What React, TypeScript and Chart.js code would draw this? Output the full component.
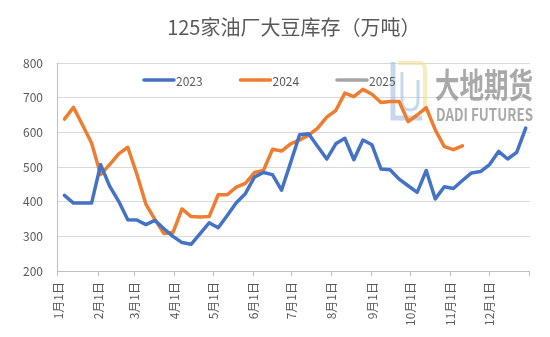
import React, { useEffect, useRef } from 'react';
import { Chart, registerables } from 'chart.js';

Chart.register(...registerables);

const titleText = '125家油厂大豆库存（万吨）';
const seriesNames = ['2023', '2024', '2025'];
const seriesColors = ['#4472C4', '#ED7D31', '#A5A5A5'];

// weekly observation dates (MM-DD)
const weekDates = [
  '01-06', '01-13', '01-20', '01-27', '02-03', '02-10', '02-17', '02-24',
  '03-03', '03-10', '03-17', '03-24', '03-31', '04-07', '04-14', '04-21', '04-28',
  '05-05', '05-12', '05-19', '05-26', '06-02', '06-09', '06-16', '06-23', '06-30',
  '07-07', '07-14', '07-21', '07-28', '08-04', '08-11', '08-18', '08-25',
  '09-01', '09-08', '09-15', '09-22', '09-29', '10-06', '10-13', '10-20', '10-27',
  '11-03', '11-10', '11-17', '11-24', '12-01', '12-08', '12-15', '12-22', '12-29',
];

const monthLabels = ['1月1日', '2月1日', '3月1日', '4月1日', '5月1日', '6月1日', '7月1日', '8月1日', '9月1日', '10月1日', '11月1日', '12月1日'];
const monthDays = [31, 28, 31, 30, 31, 30, 31, 31, 30, 31, 30, 31];

const values2023 = [
  418, 396, 396, 396, 507, 445, 401, 348, 347, 334,
  346, 322, 300, 282, 277, 308, 339, 325, 360, 397,
  423, 471, 484, 478, 433, 512, 593, 596, 559, 523,
  567, 583, 521, 578, 564, 494, 492, 465, 446, 427,
  490, 408, 443, 438, 461, 483, 487, 507, 545, 523,
  542, 612,
];

const values2024 = [
  638, 672, 621, 569, 478, 507, 538, 557, 480, 393,
  349, 308, 311, 379, 357, 356, 357, 420, 420, 442,
  453, 484, 490, 551, 546, 567, 578, 592, 612, 644,
  663, 713, 703, 724, 710, 686, 689, 689, 631, 650,
  671, 607, 559, 550, 561,
];

const values2025: number[] = [];

const yMin = 200;
const yMax = 800;
const yStep = 100;

const monthStart: number[] = [];
{
  let acc = 0;
  for (const d of monthDays) {
    monthStart.push(acc);
    acc += d;
  }
}
const yearEnd = monthDays.reduce((a, b) => a + b, 0);

const dayOfYear = (s: string) => {
  const [m, d] = s.split('-').map(Number);
  return monthStart[m - 1] + d - 1;
};

const toPoints = (vals: number[]) => vals.map((v, i) => ({ x: dayOfYear(weekDates[i]), y: v }));

const FONT = '"Noto Sans CJK SC", "Noto Sans", sans-serif';
const TEXT_COLOR = '#595959';

const legendPlugin = {
  id: 'customLegend',
  afterDatasetsDraw(chart: any) {
    const { ctx, chartArea } = chart;
    ctx.save();
    const y = chartArea.top + 17;
    chart.data.datasets.forEach((ds: any, i: number) => {
      const x0 = chartArea.left + 86 + i * 96.5;
      ctx.strokeStyle = ds.borderColor;
      ctx.lineWidth = 3.5;
      ctx.lineCap = 'round';
      ctx.beginPath();
      ctx.moveTo(x0, y);
      ctx.lineTo(x0 + 30, y);
      ctx.stroke();
      ctx.fillStyle = TEXT_COLOR;
      ctx.font = `12px ${FONT}`;
      ctx.textBaseline = 'middle';
      ctx.textAlign = 'left';
      ctx.fillText(ds.label, x0 + 32, y + 1);
    });
    ctx.restore();
  },
};

const watermarkPlugin = {
  id: 'watermark',
  beforeDatasetsDraw(chart: any) {
    const { ctx } = chart;
    ctx.save();
    // logo
    ctx.strokeStyle = 'rgba(242, 222, 150, 0.6)';
    ctx.lineWidth = 4;
    ctx.beginPath();
    ctx.moveTo(398, 63);
    ctx.lineTo(420, 63);
    ctx.quadraticCurveTo(425, 63, 425, 70);
    ctx.lineTo(425, 112);
    ctx.stroke();
    ctx.strokeStyle = 'rgba(160, 190, 225, 0.6)';
    ctx.lineWidth = 5;
    ctx.beginPath();
    ctx.moveTo(393, 62);
    ctx.lineTo(393, 118);
    ctx.lineTo(422, 118);
    ctx.stroke();
    ctx.lineWidth = 3;
    ctx.beginPath();
    ctx.moveTo(402, 72);
    ctx.lineTo(402, 100);
    ctx.quadraticCurveTo(402, 110, 410, 110);
    ctx.quadraticCurveTo(418, 110, 418, 100);
    ctx.lineTo(418, 80);
    ctx.stroke();
    // text
    ctx.fillStyle = 'rgba(140, 140, 140, 0.75)';
    ctx.textAlign = 'left';
    ctx.textBaseline = 'alphabetic';
    ctx.font = `bold 34px ${FONT}`;
    ctx.fillText('大地期货', 435, 98, 98);
    ctx.font = `bold 17px ${FONT}`;
    ctx.fillText('DADI FUTURES', 436, 121, 97);
    ctx.restore();
  },
};

export default function App() {
  const canvasRef = useRef<HTMLCanvasElement | null>(null);

  useEffect(() => {
    if (!canvasRef.current) return;
    const chart = new Chart(canvasRef.current, {
      type: 'line',
      data: {
        datasets: [
          { label: seriesNames[0], data: toPoints(values2023), borderColor: seriesColors[0], backgroundColor: seriesColors[0] },
          { label: seriesNames[1], data: toPoints(values2024), borderColor: seriesColors[1], backgroundColor: seriesColors[1] },
          { label: seriesNames[2], data: toPoints(values2025), borderColor: seriesColors[2], backgroundColor: seriesColors[2] },
        ],
      },
      options: {
        responsive: false,
        animation: false,
        parsing: false as any,
        elements: {
          line: { borderWidth: 3.5, tension: 0, borderJoinStyle: 'round', borderCapStyle: 'round' },
          point: { radius: 0, hoverRadius: 0 },
        },
        layout: { padding: { left: 8, right: 11, top: 0, bottom: 5 } },
        plugins: {
          legend: { display: false },
          tooltip: { enabled: false },
          title: {
            display: true,
            text: titleText,
            fullSize: false,
            color: TEXT_COLOR,
            font: { family: FONT, size: 20, weight: 'normal' as any, lineHeight: 1.2 },
            padding: { top: 15, bottom: 24 },
          },
        },
        scales: {
          x: {
            type: 'linear',
            min: 0,
            max: yearEnd,
            afterBuildTicks: (scale: any) => {
              scale.ticks = [...monthStart, yearEnd].map((v) => ({ value: v }));
            },
            ticks: {
              autoSkip: false,
              maxRotation: 90,
              minRotation: 90,
              padding: 6,
              color: TEXT_COLOR,
              font: { family: FONT, size: 12 },
              callback: (_v: any, i: number) => (i < monthLabels.length ? monthLabels[i] : ''),
            },
            grid: { drawOnChartArea: false, drawTicks: true, tickLength: 5, color: '#bfbfbf' },
            border: { display: true, color: '#bfbfbf', width: 1 },
          },
          y: {
            min: yMin,
            max: yMax,
            ticks: {
              stepSize: yStep,
              padding: 15,
              color: TEXT_COLOR,
              font: { family: FONT, size: 12 },
            },
            grid: { color: '#d9d9d9', drawTicks: false, lineWidth: 1 },
            border: { display: true, color: '#bfbfbf', width: 1 },
          },
        },
      },
      plugins: [watermarkPlugin, legendPlugin],
    });
    return () => chart.destroy();
  }, []);

  return (
    <div style={{ position: 'absolute', left: 0, top: 0, width: 550, height: 337, background: '#fff' }}>
      <canvas ref={canvasRef} width={550} height={337} />
    </div>
  );
}
